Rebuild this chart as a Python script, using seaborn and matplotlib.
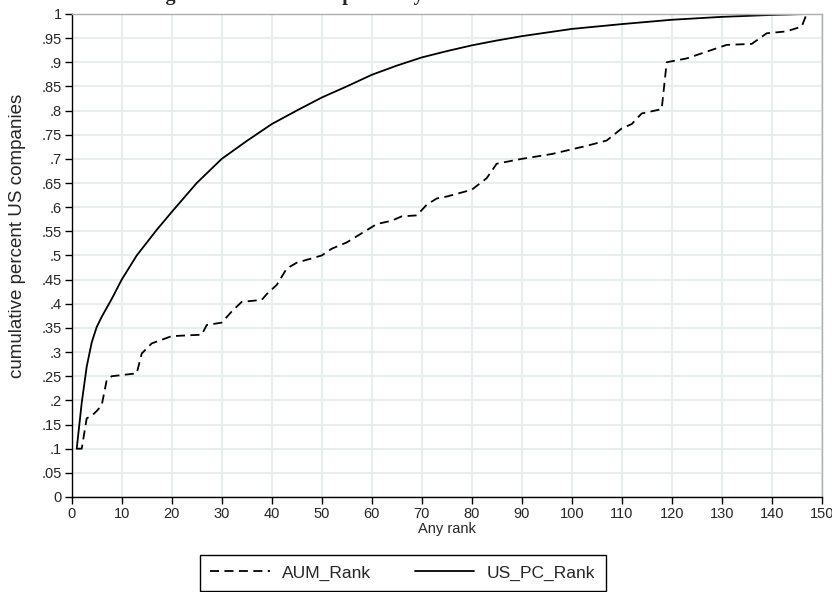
import pandas as pd
import seaborn as sns
import matplotlib.pyplot as plt
from matplotlib.ticker import MultipleLocator, FuncFormatter

# curvas acumuladas
aum_rank = [1, 2, 3, 4, 5, 6, 7, 8, 13, 14, 16, 20, 26, 27, 30, 32, 34, 38, 39, 41,
            43, 45, 48, 50, 52, 55, 58, 61, 64, 66, 69, 71, 73, 75, 80, 83, 85, 90,
            96, 103, 107, 110, 112, 114, 118, 119, 123, 127, 131, 136, 139, 143, 146, 147]
aum_cum = [.10, .10, .163, .168, .178, .19, .242, .25, .256, .297, .318, .333, .336, .356,
           .361, .384, .404, .408, .42, .439, .473, .485, .494, .50, .514, .527, .546,
           .565, .572, .581, .583, .605, .618, .622, .636, .66, .69, .70, .71, .727,
           .738, .763, .772, .794, .803, .90, .908, .922, .936, .938, .96, .964, .974, 1.0]

pc_rank = [1, 2, 3, 4, 5, 6, 8, 10, 13, 17, 20, 25, 30, 35, 40, 45, 50, 55, 60, 65, 70,
           75, 80, 85, 90, 100, 110, 120, 130, 140, 147]
pc_cum = [.10, .195, .27, .32, .352, .373, .41, .45, .50, .553, .59, .65, .70, .737, .772,
          .80, .827, .85, .874, .893, .91, .923, .935, .945, .954, .969, .979, .988, .994,
          .998, 1.0]

series_names = ['AUM_Rank', 'US_PC_Rank']

df = pd.concat([
    pd.DataFrame({'rank': aum_rank, 'cum': aum_cum, 'serie': series_names[0]}),
    pd.DataFrame({'rank': pc_rank, 'cum': pc_cum, 'serie': series_names[1]}),
])

sns.set_style('white')
plt.rcParams['font.family'] = ['Liberation Sans', 'DejaVu Sans']

fig = plt.figure(figsize=(8.32, 5.92), dpi=100)
ax = fig.add_axes([0.0862, 0.1605, 0.9014, 0.8159])

sns.lineplot(data=df, x='rank', y='cum', hue='serie', style='serie',
             palette={'AUM_Rank': 'black', 'US_PC_Rank': 'black'},
             dashes={'AUM_Rank': (5, 3), 'US_PC_Rank': ''},
             estimator=None, sort=False, linewidth=1.3, ax=ax, legend=True)

ax.set_xlim(0, 150)
ax.set_ylim(0, 1)
ax.xaxis.set_major_locator(MultipleLocator(10))
ax.yaxis.set_major_locator(MultipleLocator(0.05))
ax.yaxis.set_major_formatter(FuncFormatter(
    lambda v, p: '0' if abs(v) < 1e-9 else ('1' if abs(v - 1) < 1e-9 else f'{v:.2f}'.rstrip('0').lstrip('0'))))
ax.grid(True, color='#e6eef0', linewidth=1.5)
ax.set_axisbelow(True)
for s in ['left', 'bottom']:
    ax.spines[s].set_color('black')
    ax.spines[s].set_linewidth(1.0)
for s in ['top', 'right']:
    ax.spines[s].set_color('#a8b0b2')
    ax.spines[s].set_linewidth(1.0)
ax.tick_params(axis='both', direction='out', length=5, width=1, color='black',
               labelsize=10.5, pad=2, left=True, bottom=True)
ax.set_xlabel('Any rank', fontsize=10.5, labelpad=1)
ax.set_ylabel('cumulative percent US companies', fontsize=13.5)
ax.yaxis.set_label_coords(-0.061, 0.54)

handles, labels = ax.get_legend_handles_labels()
ax.get_legend().remove()
leg = fig.legend(handles, labels, loc='upper center', bbox_to_anchor=(0.4838, 0.0625),
                 ncol=2, fontsize=12.5, frameon=True, fancybox=False, framealpha=1,
                 edgecolor='black', handlelength=3.45, columnspacing=2.5,
                 borderpad=0.6, handletextpad=0.7, borderaxespad=0)
leg.get_frame().set_linewidth(1.0)

fig.text(0.364, 1.0, 'Cumulative Holdings of US Public Companies by AUM and Size Rank',
         ha='center', va='baseline', fontsize=14.5, fontweight='bold',
         family=['Liberation Serif', 'DejaVu Serif'])

plt.savefig('out.png', dpi=100)
